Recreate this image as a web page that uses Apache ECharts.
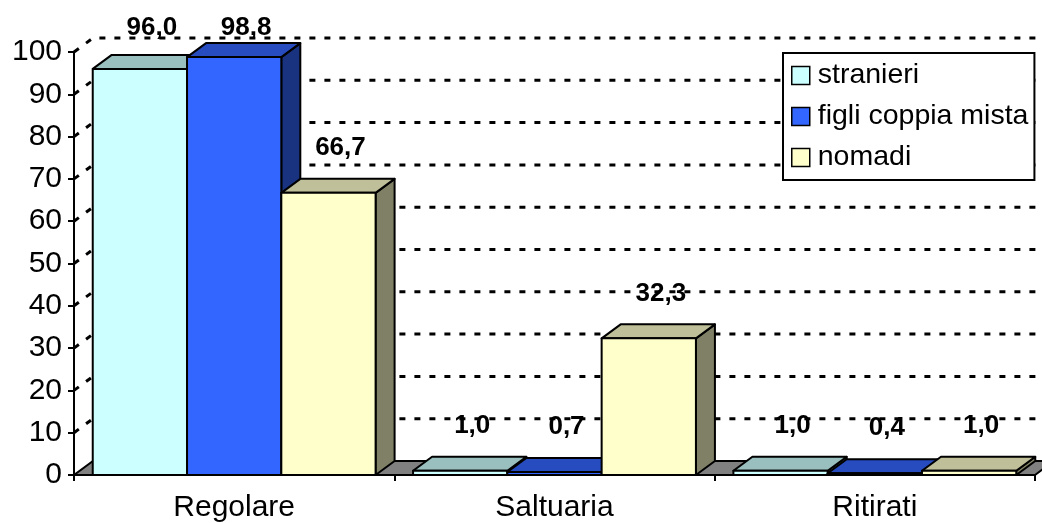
<!DOCTYPE html>
<html>
<head>
<meta charset="utf-8">
<title>Frequenza</title>
<script src="https://cdn.jsdelivr.net/npm/echarts@6.0.0/dist/echarts.min.js"></script>
<style>
  html, body { margin: 0; padding: 0; background: #ffffff; }
  #chart { width: 1042px; height: 523px; }
</style>
</head>
<body>
<div id="chart"></div>
<script>
// Categories and values (percentages)
const categories = ['Regolare', 'Saltuaria', 'Ritirati'];
const stranieri = [96.0, 1.0, 1.0];
const figliCoppiaMista = [98.8, 0.7, 0.4];
const nomadi = [66.7, 32.3, 1.0];
const yTicks = [0, 10, 20, 30, 40, 50, 60, 70, 80, 90, 100];

const FONT = "'Liberation Sans', Arial, sans-serif";
// 3D depth offset of the box faces (px)
const DX = 19, DY = -14;
const GROUP_FILL = 1 - 0.117;

const seriesDefs = [
  { name: 'stranieri', data: stranieri, front: '#CCFFFF', top: '#99BFBF', side: '#668080' },
  { name: 'figli coppia mista', data: figliCoppiaMista, front: '#3366FF', top: '#264CBF', side: '#1A3380' },
  { name: 'nomadi', data: nomadi, front: '#FFFFCC', top: '#BFBF99', side: '#808066' }
];

function fmt(v) { return v.toFixed(1).replace('.', ','); }

function barGeom(api, si) {
  const ci = api.value(0), v = api.value(1);
  const p = api.coord([ci, v]);
  const base = api.coord([ci, 0]);
  const cw = api.size([1, 0])[0];
  const gw = cw * GROUP_FILL;
  const bw = gw / seriesDefs.length;
  const x0 = p[0] - gw / 2 + si * bw;
  return { x0: x0, x1: x0 + bw, yTop: p[1], y0: base[1], bw: bw };
}

function makeBarSeries(def, si) {
  return {
    type: 'custom',
    name: def.name,
    z: 3 + si,
    itemStyle: { color: def.front },
    encode: { x: 0, y: 1 },
    data: def.data.map((v, i) => [i, v]),
    renderItem: function (params, api) {
      const g = barGeom(api, si);
      const line = { stroke: '#000', lineWidth: 2, lineJoin: 'round' };
      return {
        type: 'group',
        children: [
          {
            type: 'polygon',
            shape: { points: [[g.x1, g.yTop], [g.x1 + DX, g.yTop + DY], [g.x1 + DX, g.y0 + DY], [g.x1, g.y0]] },
            style: Object.assign({ fill: def.side }, line)
          },
          {
            type: 'polygon',
            shape: { points: [[g.x0, g.yTop], [g.x1, g.yTop], [g.x1 + DX, g.yTop + DY], [g.x0 + DX, g.yTop + DY]] },
            style: Object.assign({ fill: def.top }, line)
          },
          {
            type: 'rect',
            shape: { x: g.x0, y: g.yTop, width: g.bw, height: g.y0 - g.yTop },
            style: Object.assign({ fill: def.front }, line)
          }
        ]
      };
    }
  };
}

function makeLabelSeries(def, si) {
  return {
    type: 'custom',
    name: def.name + ' etichette',
    z: 10,
    silent: true,
    encode: { x: 0, y: 1 },
    data: def.data.map((v, i) => [i, v]),
    renderItem: function (params, api) {
      const g = barGeom(api, si);
      const topLimit = api.coord([0, 100])[1] - 24;
      return {
        type: 'text',
        style: {
          x: (g.x0 + g.x1) / 2 + 12,
          y: Math.max(g.yTop - 45, topLimit),
          text: fmt(api.value(1)),
          fill: '#000',
          font: 'bold 26px ' + FONT,
          align: 'center',
          verticalAlign: 'middle'
        }
      };
    }
  };
}

// Floor of the 3D box
const floorSeries = {
  type: 'custom',
  name: 'floor',
  z: 1,
  silent: true,
  encode: { x: 0, y: 1 },
  data: [[0, 0]],
  renderItem: function (params, api) {
    const p = api.coord([0, 0]);
    const cw = api.size([1, 0])[0];
    const left = p[0] - cw / 2, right = left + cw * categories.length;
    const y0 = p[1];
    return {
      type: 'polygon',
      shape: { points: [[left, y0], [right, y0], [right + DX, y0 + DY], [left + DX, y0 + DY]] },
      style: { fill: '#808080', stroke: '#000', lineWidth: 2 }
    };
  }
};

// Dotted gridlines on the side and back walls
const wallSeries = {
  type: 'custom',
  name: 'wall',
  z: 1,
  silent: true,
  encode: { x: 0, y: 1 },
  data: yTicks.filter(v => v > 0).map(v => [0, v]),
  renderItem: function (params, api) {
    const p = api.coord([0, api.value(1)]);
    const cw = api.size([1, 0])[0];
    const left = p[0] - cw / 2, right = left + cw * categories.length;
    const y = p[1];
    return {
      type: 'polyline',
      shape: { points: [[left, y], [left + DX, y + DY], [right + DX, y + DY]] },
      style: { stroke: '#000', lineWidth: 3, lineDash: [6, 9], fill: null }
    };
  }
};

const chart = echarts.init(document.getElementById('chart'), null, { renderer: 'canvas' });
chart.setOption({
  animation: false,
  backgroundColor: '#ffffff',
  grid: { left: 74, right: 7, top: 52, bottom: 48 },
  legend: {
    orient: 'vertical',
    left: 783,
    top: 53,
    padding: [8, 6, 8, 8],
    itemGap: 12,
    itemWidth: 18,
    itemHeight: 18,
    backgroundColor: '#ffffff',
    borderColor: '#000',
    borderWidth: 2,
    borderRadius: 0,
    icon: 'rect',
    textStyle: { fontFamily: FONT, fontSize: 28.5, color: '#000', padding: [0, 0, 0, 3] },
    data: seriesDefs.map(d => ({ name: d.name, itemStyle: { color: d.front, borderColor: '#000', borderWidth: 1.5 } }))
  },
  xAxis: {
    type: 'category',
    data: categories,
    boundaryGap: true,
    axisLine: { lineStyle: { color: '#000', width: 2 } },
    axisTick: { show: true, length: 6, lineStyle: { color: '#000', width: 2 } },
    axisLabel: { fontFamily: FONT, fontSize: 30, color: '#000', margin: 18 },
    splitLine: { show: false }
  },
  yAxis: {
    type: 'value',
    min: 0,
    max: 100,
    interval: 10,
    axisLine: { show: true, lineStyle: { color: '#000', width: 2 } },
    axisTick: { show: true, length: 6, lineStyle: { color: '#000', width: 2 } },
    axisLabel: { fontFamily: FONT, fontSize: 30, color: '#000', margin: 12,
      formatter: v => (yTicks.indexOf(v) >= 0 ? String(v) : '') },
    splitLine: { show: false }
  },
  series: [wallSeries, floorSeries]
    .concat(seriesDefs.map(makeBarSeries))
    .concat(seriesDefs.map(makeLabelSeries))
});
</script>
</body>
</html>
